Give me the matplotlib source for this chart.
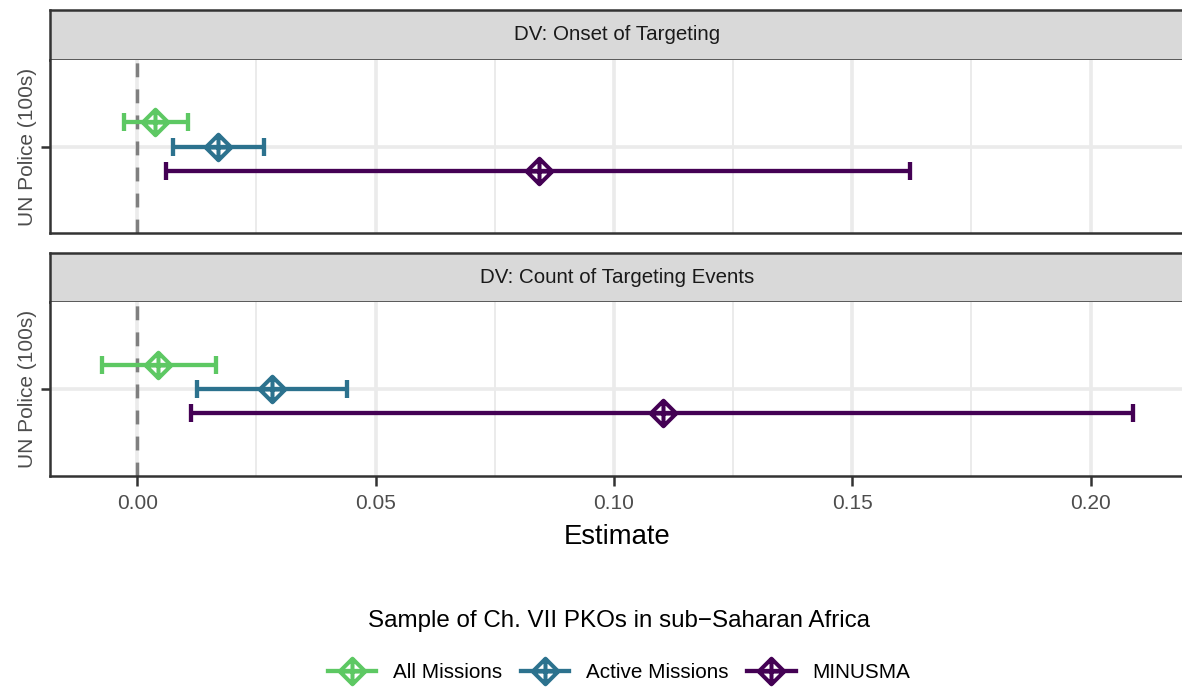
import matplotlib
matplotlib.use('Agg')
import matplotlib.pyplot as plt
from matplotlib.path import Path
from matplotlib.lines import Line2D

plt.rcParams['font.family'] = ['Liberation Sans', 'DejaVu Sans']

# ---- data ----
panels = ['DV: Onset of Targeting', 'DV: Count of Targeting Events']
samples = ['All Missions', 'Active Missions', 'MINUSMA']
colors = ['#5DC863', '#2C728E', '#440154']
term_label = 'UN Police (100s)'

onset_est = [0.0038, 0.0169, 0.0843]
onset_lo = [-0.0027, 0.0075, 0.0061]
onset_hi = [0.0107, 0.0266, 0.1621]

count_est = [0.0044, 0.0282, 0.1103]
count_lo = [-0.0075, 0.0126, 0.0113]
count_hi = [0.0165, 0.0439, 0.2090]

x_ticks = [0.00, 0.05, 0.10, 0.15, 0.20]
x_tick_labels = ['0.00', '0.05', '0.10', '0.15', '0.20']
x_minor = [0.025, 0.075, 0.125, 0.175]

legend_title = 'Sample of Ch. VII PKOs in sub\u2212Saharan Africa'
x_title = 'Estimate'

# ---- styling ----
W, H = 1182, 688
fig = plt.figure(figsize=(W / 100, H / 100), dpi=100)

dodge = [1 / 6, 0.0, -1 / 6]

all_lo = min(onset_lo + count_lo + [0.0])
all_hi = max(onset_hi + count_hi)
rng = all_hi - all_lo
xlim = (all_lo - 0.05 * rng, all_hi + 0.05 * rng)

# diamond with a plus inside (like R shape 9)
verts = [(0, 1), (1, 0), (0, -1), (-1, 0), (0, 1),
         (0, 1), (0, -1),
         (-1, 0), (1, 0)]
codes = [Path.MOVETO, Path.LINETO, Path.LINETO, Path.LINETO, Path.CLOSEPOLY,
         Path.MOVETO, Path.LINETO,
         Path.MOVETO, Path.LINETO]
dplus = Path(verts, codes)

MS = 18.4
MEW = 2.9
ELW = 3.1
SPINE = '#333333'
GRID = '#ebebeb'
TICKFS = 15.0


def px_rect(left, top, right, bottom):
    return [left / W, 1 - bottom / H, (right - left) / W, (bottom - top) / H]


def draw_panel(strip_px, panel_px, title, est, lo, hi, show_x):
    sax = fig.add_axes(px_rect(*strip_px))
    sax.set_facecolor('#d9d9d9')
    for s in ['top', 'left', 'bottom']:
        sax.spines[s].set(color=SPINE, lw=1.8)
    sax.spines['right'].set_visible(False)
    sax.set_xticks([])
    sax.set_yticks([])
    sax.text(0.5, 0.5, title, ha='center', va='center', fontsize=14.8,
             color='#1a1a1a', transform=sax.transAxes)

    ax = fig.add_axes(px_rect(*panel_px))
    ax.set_xlim(*xlim)
    ax.set_ylim(0.4, 1.6)
    ax.set_axisbelow(True)
    for s in ['top', 'right']:
        ax.spines[s].set_visible(False)
    for s in ['left', 'bottom']:
        ax.spines[s].set(color=SPINE, lw=1.8)

    ax.set_xticks(x_ticks)
    ax.set_xticks(x_minor, minor=True)
    ax.set_yticks([1])
    ax.set_yticklabels([term_label], rotation=90, va='center', ha='right',
                       fontsize=TICKFS, color='#4d4d4d')
    ax.grid(which='major', color=GRID, lw=2.6)
    ax.grid(which='minor', axis='x', color=GRID, lw=1.4)
    ax.tick_params(which='minor', length=0)
    ax.tick_params(axis='y', length=6.5, width=1.8, color=SPINE, pad=3)
    if show_x:
        ax.set_xticklabels(x_tick_labels, fontsize=TICKFS, color='#4d4d4d')
        ax.tick_params(axis='x', length=7, width=1.8, color=SPINE, pad=6)
        ax.set_xlabel(x_title, fontsize=19.8, color='black', labelpad=8)
    else:
        ax.tick_params(axis='x', length=0, labelbottom=False)

    ax.axvline(0, color='#7f7f7f', lw=2.5, ls=(0, (4, 3.5)), zorder=2)

    for i in range(len(samples)):
        y = 1 + dodge[i]
        ax.errorbar([est[i]], [y], xerr=[[est[i] - lo[i]], [hi[i] - est[i]]],
                    fmt='none', ecolor=colors[i], elinewidth=ELW,
                    capsize=6.3, capthick=ELW, zorder=3)
        ax.plot([est[i]], [y], linestyle='none', marker=dplus, ms=MS,
                mfc='none', mec=colors[i], mew=MEW, zorder=4)
    return ax


draw_panel((50, 10, 1185, 60), (50, 60, 1185, 233), panels[0],
           onset_est, onset_lo, onset_hi, False)
draw_panel((50, 253, 1185, 302), (50, 302, 1185, 476), panels[1],
           count_est, count_lo, count_hi, True)

handles = [Line2D([0], [0], color=c, lw=ELW, marker=dplus, ms=MS,
                  mfc='none', mec=c, mew=MEW) for c in colors]
leg = fig.legend(handles, samples, loc='center',
                 bbox_to_anchor=(619 / W, 1 - 646 / H), ncol=3, frameon=False,
                 title=legend_title, title_fontsize=17.4, fontsize=14.9,
                 handlelength=2.34, handletextpad=0.81, columnspacing=0.9,
                 labelspacing=1.5)

fig.savefig('out.png', dpi=100)
